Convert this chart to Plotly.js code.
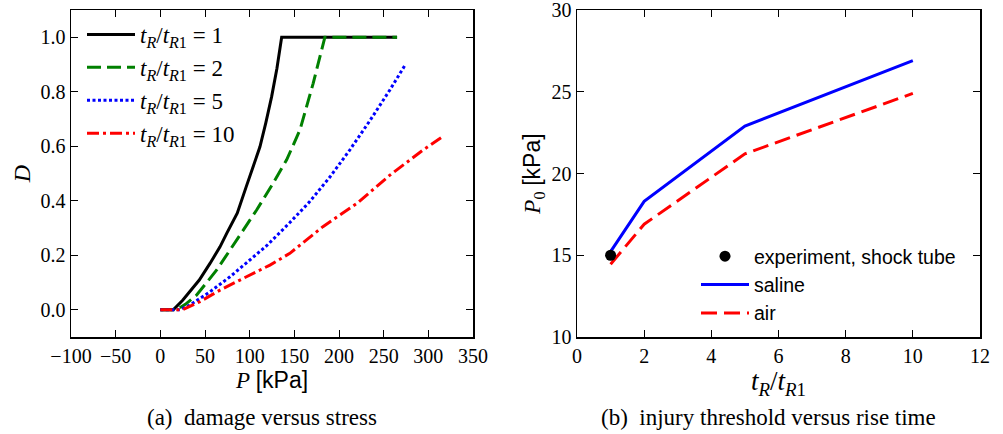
<!DOCTYPE html>
<html>
<head>
<meta charset="utf-8">
<script src="https://cdn.plot.ly/plotly-3.0.1.min.js"></script>
<style>html,body{margin:0;padding:0;background:#fff;}</style>
</head>
<body>
<div id="chart" style="width:1003px;height:434px;"></div>
<script>
// ---- Panel (a): damage D versus stress P [kPa] ----
var P_r1 = [0, 14.5, 25, 36.9, 43.6, 55.6, 66.8, 74.3, 86.1, 96, 111.5, 118, 124.6, 130.5, 135.8, 265];
var D_r1 = [0, 0, 0.035, 0.084, 0.109, 0.17, 0.231, 0.28, 0.354, 0.45, 0.598, 0.685, 0.782, 0.885, 1.0, 1.0];
var P_r2 = [0, 18, 28, 40.7, 63.1, 85.5, 107.8, 124, 141.4, 156.3, 171.1, 184.2, 265];
var D_r2 = [0, 0, 0.02, 0.054, 0.146, 0.256, 0.366, 0.452, 0.55, 0.66, 0.831, 1.0, 1.0];
var P_r5 = [0, 22, 33, 55.6, 78, 100, 119, 145, 167, 190, 212, 235, 257, 274];
var D_r5 = [0, 0, 0.017, 0.066, 0.121, 0.182, 0.235, 0.32, 0.396, 0.488, 0.586, 0.696, 0.807, 0.898];
var P_r10 = [0, 25, 44.4, 66.8, 89.1, 111.5, 122.7, 145, 182, 220, 257, 294, 315];
var D_r10 = [0, 0, 0.03, 0.072, 0.109, 0.146, 0.164, 0.207, 0.305, 0.39, 0.494, 0.586, 0.633];
var ratioLabels = ["1", "2", "5", "10"];

// ---- Panel (b): injury threshold P0 [kPa] versus rise time ratio ----
var riseRatio = [1, 2, 5, 10];
var P0_saline = [15.22, 18.3, 22.9, 26.9];
var P0_air = [14.45, 16.9, 21.2, 24.9];
var expRatio = [1];
var expP0 = [15];

var SERIF = "Liberation Serif, Times New Roman, serif";
var SANS = "Liberation Sans, Arial, sans-serif";
function ratioName(v) {
  return "<i>t</i><sub><i>R</i></sub>/<i>t</i><sub><i>R</i>1</sub> = " + v;
}

var traces = [
  {x: P_r1, y: D_r1, mode: "lines", name: ratioName(ratioLabels[0]), legendrank: 1,
   line: {color: "#000000", width: 3}, xaxis: "x", yaxis: "y", legend: "legend"},
  {x: P_r2, y: D_r2, mode: "lines", name: ratioName(ratioLabels[1]), legendrank: 2,
   line: {color: "#008000", width: 3, dash: "14px,6px"}, xaxis: "x", yaxis: "y", legend: "legend"},
  {x: P_r5, y: D_r5, mode: "lines", name: ratioName(ratioLabels[2]), legendrank: 3,
   line: {color: "#0000ff", width: 3, dash: "3px,2.5px"}, xaxis: "x", yaxis: "y", legend: "legend"},
  {x: P_r10, y: D_r10, mode: "lines", name: ratioName(ratioLabels[3]), legendrank: 4,
   line: {color: "#ff0000", width: 3, dash: "12px,4px,3px,4px"}, xaxis: "x", yaxis: "y", legend: "legend"},
  {x: riseRatio, y: P0_saline, mode: "lines", name: "saline", legendrank: 2,
   line: {color: "#0000ff", width: 3}, xaxis: "x2", yaxis: "y2", legend: "legend2"},
  {x: riseRatio, y: P0_air, mode: "lines", name: "air", legendrank: 3,
   line: {color: "#ff0000", width: 3, dash: "16px,7px"}, xaxis: "x2", yaxis: "y2", legend: "legend2"},
  {x: expRatio, y: expP0, mode: "markers", name: "experiment, shock tube", legendrank: 1,
   marker: {color: "#000000", size: 11}, xaxis: "x2", yaxis: "y2", legend: "legend2"}
];

var axBase = {
  showline: true, linecolor: "#000", linewidth: 1.5, mirror: "ticks",
  ticks: "inside", ticklen: 7, tickwidth: 1, tickcolor: "#000",
  showgrid: false, zeroline: false, ticklabeloverflow: "allow",
  tickfont: {family: SERIF, size: 20, color: "#000"}
};
function ax(extra) { return Object.assign({}, axBase, extra); }

var layout = {
  width: 1003, height: 434,
  margin: {l: 0, r: 0, t: 0, b: 0},
  paper_bgcolor: "#fff", plot_bgcolor: "#fff",
  font: {family: SERIF, color: "#000"},
  showlegend: true,
  xaxis: ax({domain: [71/1003, 473/1003], range: [-100, 350], dtick: 50, tick0: 0, anchor: "y",
    title: {text: '<i>P</i> <span style="font-family:Liberation Sans">[kPa]</span>',
            font: {family: SERIF, size: 23}, standoff: 6}}),
  yaxis: ax({domain: [1 - 337/434, 1 - 10/434], range: [-0.1, 1.1], dtick: 0.2, tick0: 0,
    tickformat: ".1f", anchor: "x",
    title: {text: "<i>D</i>", font: {family: SERIF, size: 24}, standoff: 3}}),
  xaxis2: ax({domain: [577/1003, 980/1003], range: [0, 12], dtick: 2, tick0: 0, anchor: "y2",
    title: {text: "<i>t</i><sub><i>R</i></sub>/<i>t</i><sub><i>R</i>1</sub>",
            font: {family: SERIF, size: 27}, standoff: 0}}),
  yaxis2: ax({domain: [1 - 337/434, 1 - 10/434], range: [10, 30], dtick: 5, tick0: 10, anchor: "x2",
    title: {text: '<i>P</i><sub>0</sub> <span style="font-family:Liberation Sans">[kPa]</span>',
            font: {family: SERIF, size: 23}, standoff: 4}}),
  legend: {x: 82/1003, y: 1 - 13/434, xanchor: "left", yanchor: "top",
    bgcolor: "rgba(255,255,255,0)", borderwidth: 0, itemwidth: 48,
    traceorder: "normal",
    font: {family: SERIF, size: 23, color: "#000"}},
  legend2: {x: 696/1003, y: 1 - 237/434, xanchor: "left", yanchor: "top",
    bgcolor: "rgba(255,255,255,0)", borderwidth: 0, itemwidth: 48,
    traceorder: "normal",
    font: {family: SANS, size: 19.5, color: "#000"}},
  annotations: [
    {text: "(a)  damage versus stress", xref: "paper", yref: "paper",
     x: 262/1003, y: 1 - 417/434, xanchor: "center", yanchor: "middle", showarrow: false,
     font: {family: SERIF, size: 23, color: "#000"}},
    {text: "(b)  injury threshold versus rise time", xref: "paper", yref: "paper",
     x: 768/1003, y: 1 - 417/434, xanchor: "center", yanchor: "middle", showarrow: false,
     font: {family: SERIF, size: 23, color: "#000"}}
  ]
};

Plotly.newPlot("chart", traces, layout, {displayModeBar: false, staticPlot: true});
</script>
</body>
</html>
